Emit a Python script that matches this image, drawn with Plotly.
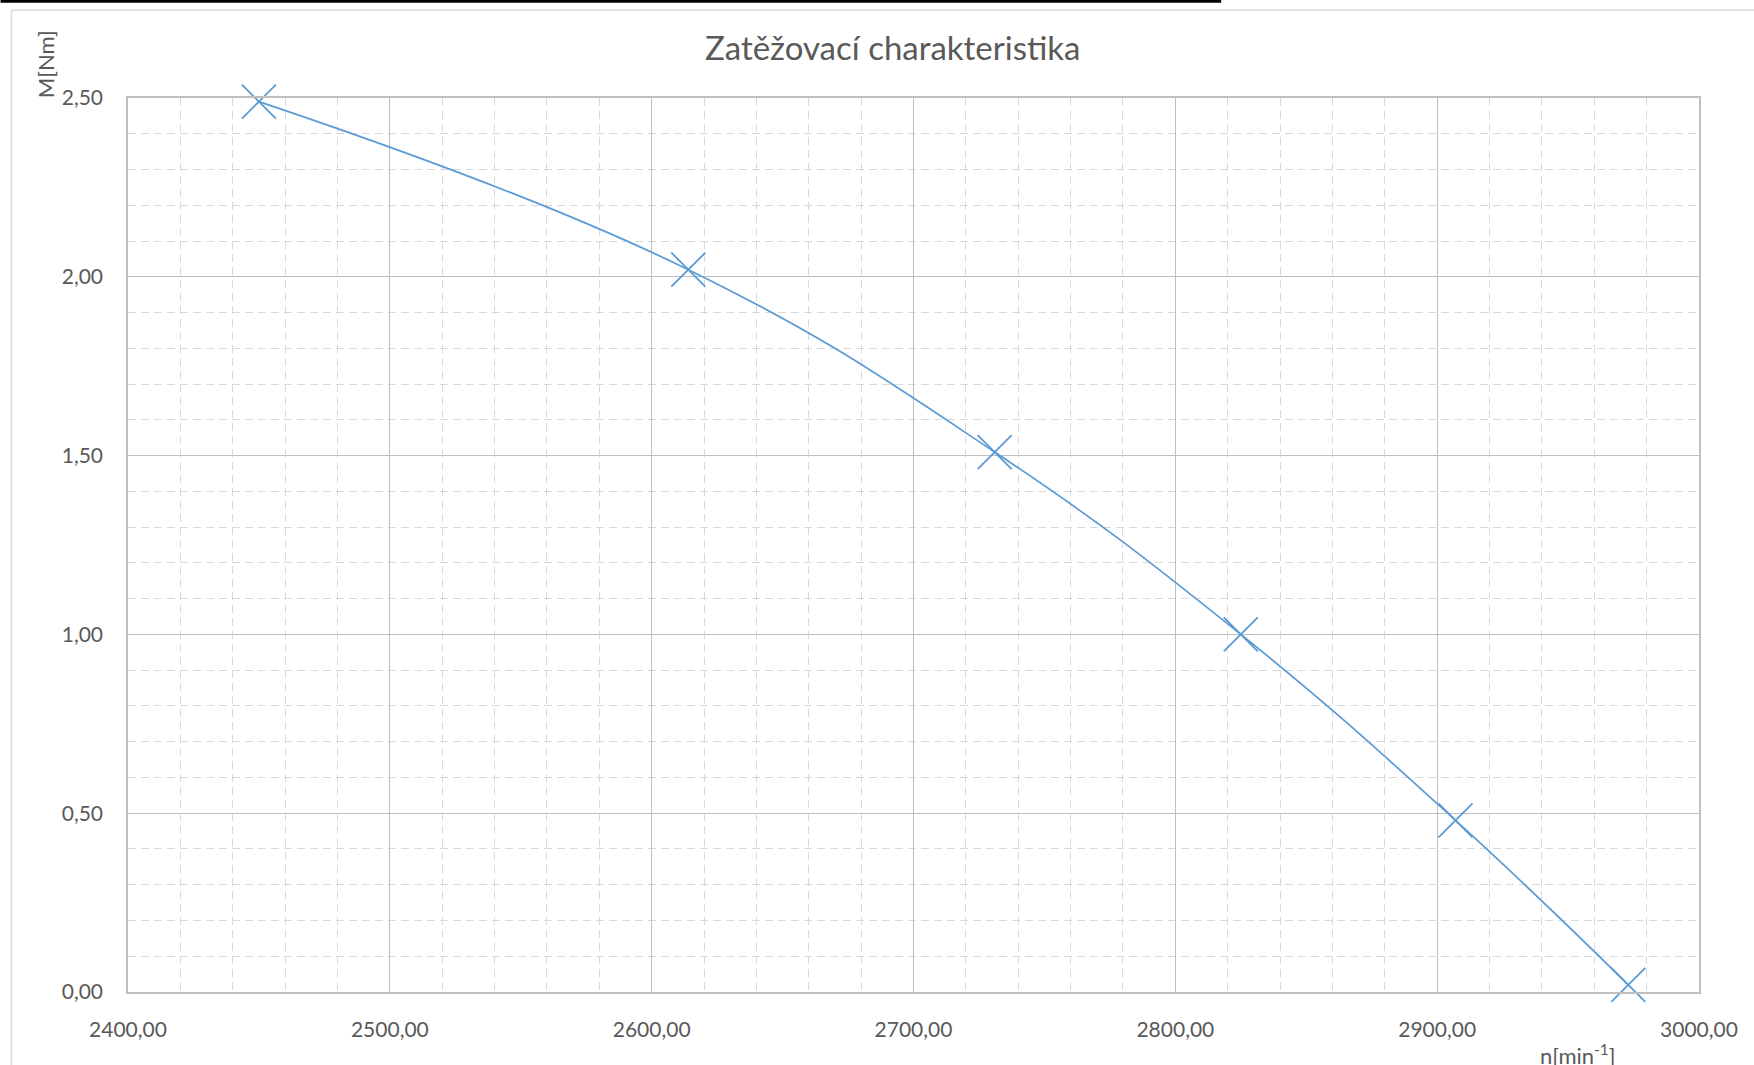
import plotly.graph_objects as go

# data
n_values = [2450, 2614, 2731, 2825, 2907, 2973]
m_values = [2.49, 2.02, 1.51, 1.00, 0.48, 0.02]
title_text = "Zatěžovací charakteristika"
x_title = "n[min<sup>-1</sup>]"
y_title = "M[Nm]"

W, H = 1754, 1065
L, R, T, B = 127.5, 55, 98.3, 72.5
PW = W - L - R
PH = H - T - B

def px(x):
    return (x - L) / PW

def py(y):
    return (H - B - y) / PH

BLUE = "#5B9BD5"
TXT = "#595959"
MAJ = "#BFBFBF"
MIN = "#D9D9D9"
FONT = "Lato"

fig = go.Figure()
fig.add_trace(go.Scatter(
    x=n_values, y=m_values, mode="lines+markers",
    line=dict(color=BLUE, width=1.7, shape="spline", smoothing=1.2),
    marker=dict(symbol="x-thin", size=34, line=dict(color=BLUE, width=1.8)),
    cliponaxis=False, showlegend=False, hoverinfo="x+y",
))

fig.update_layout(
    width=W, height=H,
    margin=dict(l=L, r=R, t=T, b=B, pad=0, autoexpand=False),
    paper_bgcolor="white", plot_bgcolor="white",
    separators=",.",
    font=dict(family=FONT, size=21, color=TXT),
    title=dict(text=title_text, x=px(892.5), xref="paper", xanchor="center",
               y=1 - 48 / H, yanchor="middle", yref="container",
               font=dict(family=FONT, size=33, color=TXT)),
    xaxis=dict(range=[2400, 3000], dtick=100, tick0=2400, tickformat=".2f",
               showgrid=True, gridcolor=MAJ, gridwidth=1.3,
               showline=True, linecolor=MAJ, linewidth=1.5, mirror=True,
               ticks="", ticklabelstandoff=18, zeroline=False,
               tickfont=dict(family=FONT, size=21, color=TXT),
               minor=dict(dtick=20, tick0=2400, showgrid=True, gridcolor=MIN,
                          gridwidth=1.3, griddash="8px,5px", ticks="")),
    yaxis=dict(range=[0, 2.5], dtick=0.5, tick0=0, tickformat=".2f",
               showgrid=True, gridcolor=MAJ, gridwidth=1.3,
               showline=True, linecolor=MAJ, linewidth=1.5, mirror=True,
               ticks="", ticklabelstandoff=19, zeroline=False,
               tickfont=dict(family=FONT, size=21, color=TXT),
               minor=dict(dtick=0.1, tick0=0, showgrid=True, gridcolor=MIN,
                          gridwidth=1.3, griddash="8px,5px", ticks="")),
    shapes=[
        # chart area border (light)
        dict(type="line", xref="paper", yref="paper", x0=px(11), x1=px(1760),
             y0=py(10.5), y1=py(10.5), line=dict(color="#D9D9D9", width=1.5)),
        dict(type="line", xref="paper", yref="paper", x0=px(11), x1=px(11),
             y0=py(10.5), y1=py(1070), line=dict(color="#D9D9D9", width=1.5)),
        # black bar at top
        dict(type="rect", xref="paper", yref="paper", x0=px(0), x1=px(1221),
             y0=py(0), y1=py(3), fillcolor="black", line=dict(width=0)),
    ],
    annotations=[
        dict(text=y_title, xref="paper", yref="paper", x=px(45), y=py(65),
             xanchor="center", yanchor="middle", textangle=-90, showarrow=False,
             font=dict(family=FONT, size=22, color=TXT)),
        dict(text=x_title, xref="paper", yref="paper", x=px(1577), y=py(1055),
             xanchor="center", yanchor="middle", showarrow=False,
             font=dict(family=FONT, size=22, color=TXT)),
    ],
)

fig.write_html(
    "out.html",
    config={"displayModeBar": False},
    post_script="document.body.style.margin='0';document.body.style.overflow='hidden';",
)
